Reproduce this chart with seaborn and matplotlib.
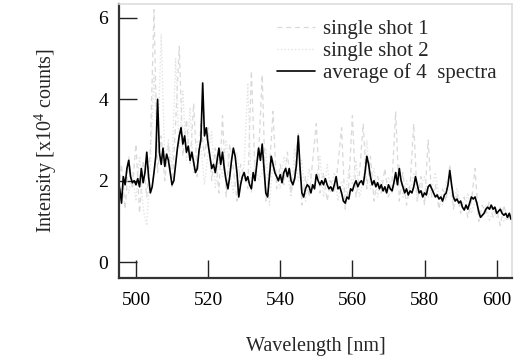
import numpy as np
import pandas as pd
import matplotlib
matplotlib.use("Agg")
import matplotlib.pyplot as plt
import seaborn as sns

# Wavelength grids (nm)
wl_avg = np.arange(495.0, 605.01, 0.5)
wl_shot = np.arange(495.0, 605.01, 1.0)

# Averaged spectrum of 4 shots (x10^4 counts), 0.5 nm sampling
average = [
    2.0, 1.8, 1.45, 2.1, 1.9, 2.3, 2.5, 2.1, 1.95, 2.0,
    1.9, 2.05, 1.85, 2.3, 1.95, 2.2, 2.7, 2.1, 1.7, 1.85,
    2.2, 2.6, 4.0, 2.7, 2.4, 2.8, 2.35, 2.65, 2.5, 2.2,
    1.9, 2.0, 2.4, 2.8, 3.1, 3.3, 2.9, 3.1, 2.7, 2.85,
    2.5, 2.7, 2.45, 2.2, 2.3, 2.75, 3.0, 4.4, 3.1, 3.3,
    2.9, 2.6, 2.3, 2.4, 2.2, 2.5, 2.8, 2.4, 2.7, 2.3,
    2.0, 1.8, 2.1, 2.5, 2.8, 2.6, 2.2, 1.6, 1.9, 2.1,
    2.2, 2.0, 2.1, 1.9, 1.8, 2.2, 2.0, 2.4, 2.8, 2.5,
    2.9, 2.3, 1.7, 1.6, 2.1, 2.6, 2.4, 2.2, 2.1, 2.0,
    2.15, 1.95, 2.2, 2.3, 2.1, 2.3, 2.0, 1.9, 2.05, 2.4,
    3.1, 2.3, 1.7, 1.6, 1.8, 1.9, 1.85, 1.7, 1.9, 1.8,
    2.15, 2.0, 1.9, 2.0, 1.9, 2.05, 1.9, 1.8, 1.85, 1.75,
    1.9, 2.1, 1.8, 1.85, 1.7, 1.5, 1.45, 1.6, 1.55, 1.8,
    1.75, 1.9, 2.0, 1.85, 1.95, 2.0, 1.9, 2.2, 2.6, 2.4,
    2.1, 1.9, 2.0, 1.85, 1.95, 1.8, 1.9, 1.75, 1.85, 1.7,
    1.9, 1.8, 1.75, 1.95, 2.2, 1.9, 2.3, 2.0, 1.85, 1.7,
    1.8, 1.65, 1.75, 1.7, 1.85, 2.1, 1.9, 1.7, 1.75, 1.6,
    1.7, 1.65, 1.85, 1.9, 1.8, 1.7, 1.6, 1.65, 1.55, 1.6,
    1.5, 1.65, 1.7, 1.9, 2.25, 1.9, 1.6, 1.5, 1.55, 1.45,
    1.5, 1.35, 1.28, 1.4, 1.3, 1.45, 1.6, 1.55, 1.6, 1.45,
    1.25, 1.1, 1.15, 1.2, 1.3, 1.35, 1.3, 1.4, 1.3, 1.35,
    1.2, 1.25, 1.3, 1.2, 1.15, 1.2, 1.1, 1.2, 1.05, 1.1,
    1.0,
]

# Single-shot spectra, 1 nm sampling
shot1 = [
    1.6, 2.4, 1.3, 2.6, 1.8,
    2.9, 1.2, 2.5, 1.6, 2.8,
    6.2, 2.2, 3.1, 2.0, 2.9,
    1.8, 3.4, 5.3, 2.6, 3.5,
    2.4, 3.9, 2.1, 3.4, 2.6,
    3.3, 2.0, 2.8, 1.7, 3.6,
    1.6, 2.9, 2.3, 1.5, 2.4,
    2.1, 1.8, 4.7, 2.2, 2.6,
    4.6, 1.5, 2.3, 3.7, 1.8,
    2.4, 1.9, 2.7, 1.7, 2.3,
    3.2, 1.4, 2.1, 1.6, 2.5,
    3.4, 1.7, 2.2, 1.5, 2.0,
    1.7, 2.4, 3.3, 1.3, 1.9,
    3.6, 1.6, 2.2, 3.4, 1.8,
    2.6, 1.5, 2.1, 1.7, 2.3,
    1.6, 2.0, 3.7, 1.5, 2.2,
    1.4, 1.9, 3.4, 1.5, 2.1,
    1.4, 3.0, 1.6, 1.9, 1.3,
    1.8, 1.5, 2.4, 1.3, 1.7,
    1.2, 1.6, 1.1, 1.5, 2.3,
    1.0, 1.4, 1.2, 1.5, 1.1,
    1.3, 0.9, 1.4, 1.0, 1.2,
    0.95,
]
shot2 = [
    2.3, 1.4, 2.0, 1.7, 2.2,
    1.5, 2.6, 1.3, 0.9, 2.4,
    4.6, 2.7, 5.6, 2.4, 3.0,
    2.3, 5.0, 2.8, 4.2, 2.5,
    3.8, 2.2, 3.0, 2.8, 1.9,
    2.7, 3.2, 1.8, 2.6, 2.1,
    3.0, 2.2, 1.7, 2.7, 1.9,
    2.4, 4.4, 1.7, 2.5, 2.0,
    2.2, 2.8, 1.4, 2.5, 2.1,
    1.8, 2.6, 2.2, 1.6, 2.8,
    2.0, 2.5, 1.5, 2.3, 1.8,
    2.0, 2.6, 1.6, 2.4, 1.7,
    2.2, 1.5, 2.0, 1.6, 2.3,
    1.9, 2.5, 1.6, 2.0, 3.0,
    1.8, 2.3, 1.6, 2.0, 1.7,
    2.1, 1.7, 2.0, 2.4, 1.6,
    2.0, 1.7, 2.2, 1.5, 1.9,
    2.1, 1.6, 1.8, 2.2, 1.6,
    1.4, 2.0, 1.7, 1.5, 1.8,
    1.4, 1.3, 1.7, 1.2, 1.5,
    1.3, 1.1, 1.4, 1.0, 1.3,
    1.1, 1.35, 1.0, 1.2, 1.05,
    1.1,
]

labels = ["single shot 1", "single shot 2", "average of 4  spectra"]
x_ticks = [500, 520, 540, 560, 580, 600]
y_ticks = [0, 2, 4, 6]

sns.set_style("white")
plt.rcParams["font.family"] = ["Liberation Serif", "DejaVu Serif"]
plt.rcParams["mathtext.fontset"] = "custom"
plt.rcParams["mathtext.rm"] = "Liberation Serif"
plt.rcParams["mathtext.it"] = "Liberation Serif:italic"

fig = plt.figure(figsize=(5.14, 3.62), dpi=100)
ax = fig.add_axes([0.2315, 0.232, 0.765, 0.757])

sns.lineplot(x=wl_shot, y=shot1, ax=ax, color="#d9d9d9", lw=0.9,
             linestyle=(0, (4, 3)), label=labels[0])
sns.lineplot(x=wl_shot, y=shot2, ax=ax, color="#e4e4e4", lw=1.0,
             linestyle=(0, (1, 1.5)), label=labels[1])
sns.lineplot(x=wl_avg, y=average, ax=ax, color="black", lw=1.2,
             label=labels[2])

ax.set_xlim(495.3, 604.3)
ax.set_ylim(-0.39, 6.34)
ax.set_xticks(x_ticks)
ax.set_yticks(y_ticks)
ax.tick_params(bottom=True, left=True, top=False, right=False,
               direction="in", length=13, width=1.0, labelsize=14,
               colors="#222222", labelcolor="black")
ax.tick_params(axis="y", pad=8)
ax.tick_params(axis="x", pad=10)

for side in ("left", "bottom"):
    ax.spines[side].set_color("#333333")
    ax.spines[side].set_linewidth(1.6)
for side in ("top", "right"):
    ax.spines[side].set_color("#dddddd")
    ax.spines[side].set_linewidth(1.2)

ax.set_xlabel("Wavelength [nm]", fontsize=14.5, labelpad=20)
ax.set_ylabel("Intensity [x10$^{4}$ counts]", fontsize=14.5, labelpad=28)

leg = ax.legend(loc="upper right", bbox_to_anchor=(1.0, 1.0), frameon=False,
                fontsize=15, handlelength=1.8, handletextpad=0.4,
                labelspacing=0.1, borderpad=0.25)

fig.savefig("out.png", dpi=100)
